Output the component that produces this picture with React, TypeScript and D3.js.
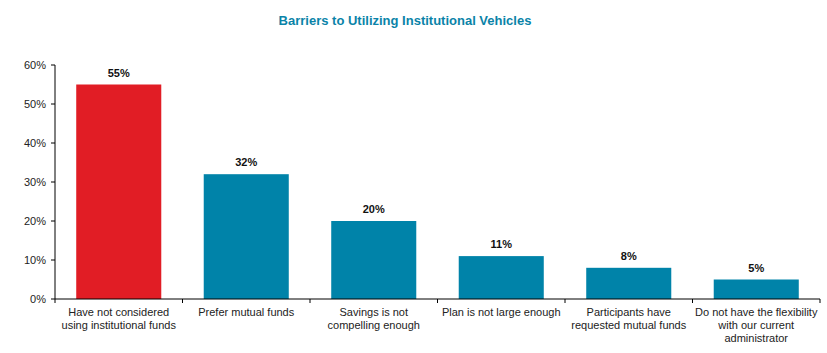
import React from "react";
import * as d3 from "d3";

const categories = [
  ["Have not considered", "using institutional funds"],
  ["Prefer mutual funds"],
  ["Savings is not", "compelling enough"],
  ["Plan is not large enough"],
  ["Participants have", "requested mutual funds"],
  ["Do not have the flexibility", "with our current", "administrator"],
];
const values = [55, 32, 20, 11, 8, 5];
const yTicks = [0, 10, 20, 30, 40, 50, 60];
const title = "Barriers to Utilizing Institutional Vehicles";

export default function App() {
  const W = 827, H = 353;
  const left = 55, right = 820, top = 65, bottom = 299;
  const x = d3.scaleBand<number>().domain(d3.range(values.length)).range([left, right]).paddingInner(0.333).paddingOuter(0.1665);
  const y = d3.scaleLinear().domain([0, 60]).range([bottom, top]);
  const step = (right - left) / values.length;
  const font = "'Liberation Sans', Arial, sans-serif";
  return (
    <svg width={W} height={H} style={{ position: "absolute", left: 0, top: 0 }} fontFamily={font}>
      <rect width={W} height={H} fill="#fff" />
      <text x={405} y={25} textAnchor="middle" fontSize={13} fontWeight="bold" fill="#0a83a8">{title}</text>
      {values.map((v, i) => (
        <g key={i}>
          <rect x={x(i)} y={y(v)} width={x.bandwidth()} height={bottom - y(v)} fill={i === 0 ? "#e11d25" : "#0083a9"} />
          <text x={x(i)! + x.bandwidth() / 2} y={y(v) - 8} textAnchor="middle" fontSize={11} fontWeight="bold" fill="#111">{v}%</text>
          {categories[i].map((line, j) => (
            <text key={j} x={left + step * (i + 0.5)} y={316 + j * 13} textAnchor="middle" fontSize={11} fill="#222">{line}</text>
          ))}
        </g>
      ))}
      <line x1={left} x2={left} y1={top} y2={bottom} stroke="#000" />
      <line x1={left} x2={right} y1={bottom} y2={bottom} stroke="#000" />
      {yTicks.map((t) => (
        <g key={t}>
          <line x1={left - 4} x2={left} y1={y(t)} y2={y(t)} stroke="#000" />
          <text x={left - 9} y={y(t) + 4} textAnchor="end" fontSize={11} fill="#222">{t}%</text>
        </g>
      ))}
      {d3.range(values.length + 1).map((i) => (
        <line key={i} x1={left + step * i} x2={left + step * i} y1={bottom} y2={bottom + 4} stroke="#000" />
      ))}
    </svg>
  );
}
